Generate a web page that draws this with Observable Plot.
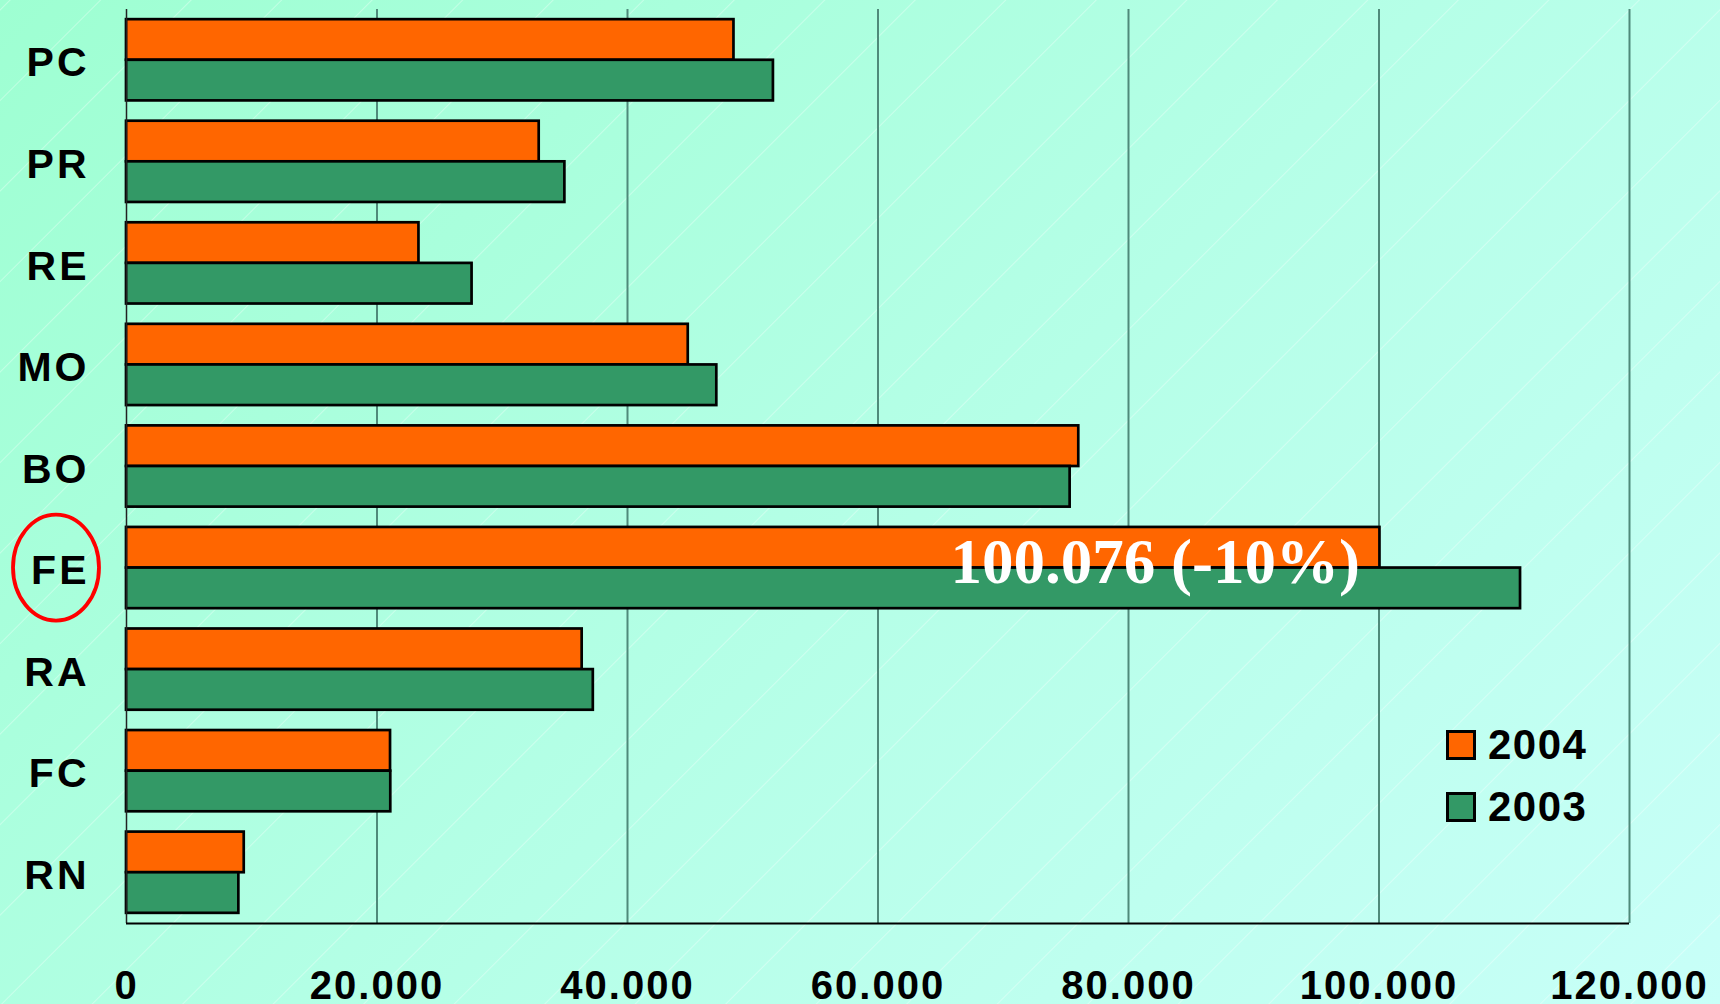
<!DOCTYPE html>
<html>
<head>
<meta charset="utf-8">
<script src="https://cdn.jsdelivr.net/npm/d3@7"></script>
<script src="https://cdn.jsdelivr.net/npm/@observablehq/plot@0.6"></script>
<style>
  html, body { margin: 0; padding: 0; }
  body {
    width: 1720px; height: 1004px; overflow: hidden; position: relative;
    background:
      repeating-linear-gradient(-45deg, rgba(255,255,255,0) 0px, rgba(255,255,255,0) 62px, rgba(255,255,255,0.35) 63px, rgba(255,255,255,0) 64px),
      linear-gradient(135deg, #9effd2 0%, #b4ffe6 50%, #c8fff8 100%);
    font-family: "Liberation Sans", Arial, sans-serif;
  }
  #chart { position: absolute; left: 0; top: 0; }
  #chart svg { background: transparent !important; overflow: visible; }
  g[aria-label="x-axis tick label"] text { letter-spacing: 2px; }
  g[aria-label="y-axis tick label"] text { letter-spacing: 3px; }
  .legend { position: absolute; left: 1446px; top: 714px; font-weight: bold; font-size: 42px; letter-spacing: 1.5px; color: #000; }
  .legend .row { display: flex; align-items: center; height: 62px; }
  .legend .sw { width: 24px; height: 24px; border: 3px solid #000; margin-right: 12px; }
</style>
</head>
<body>
<div id="chart"></div>
<div class="legend" id="legend"></div>
<script>
// ---- data ----
const categories = ["PC", "PR", "RE", "MO", "BO", "FE", "RA", "FC", "RN"];
const values2004 = [48500, 32950, 23350, 44850, 76030, 100076, 36380, 21080, 9400];
const values2003 = [51650, 35000, 27590, 47130, 75340, 111300, 37270, 21100, 8970];
const years = ["2004", "2003"];
const yearColors = ["#ff6600", "#339966"];
const xTicks = [0, 20000, 40000, 60000, 80000, 100000, 120000];
const highlight = "FE";

const fmt = d => d3.format(",")(d).replace(/,/g, ".");

const rows = [];
categories.forEach((c, i) => {
  rows.push({cat: c, i, year: "2004", value: values2004[i], y1: i - 0.4, y2: i});
  rows.push({cat: c, i, year: "2003", value: values2003[i], y1: i, y2: i + 0.4});
});

const hi = categories.indexOf(highlight);
const pct = Math.round((values2004[hi] - values2003[hi]) / values2003[hi] * 100);
const annot = [{i: hi, value: values2004[hi], label: `${fmt(values2004[hi])} (${pct}%)`}];

const yMin = -0.5, yMax = categories.length - 0.5;

const chart = Plot.plot({
  width: 1720,
  height: 1004,
  marginLeft: 126,
  marginRight: 91,
  marginTop: 9,
  marginBottom: 81,
  style: {background: "transparent", fontFamily: "'Liberation Sans', Arial, sans-serif", overflow: "visible"},
  x: {domain: [0, 120000], label: null},
  y: {domain: [yMin, yMax], reverse: true, label: null},
  color: {domain: years, range: yearColors},
  marks: [
    Plot.gridX({ticks: xTicks.slice(1), stroke: "#4f8a7a", strokeOpacity: 1, strokeWidth: 2}),
    Plot.rectX(rows, {x1: 0, x2: "value", y1: "y1", y2: "y2", fill: "year", stroke: "#000", strokeWidth: 2.7}),
    Plot.ruleX([0], {stroke: "#222", strokeWidth: 1.5}),
    Plot.ruleY([yMax], {stroke: "#000", strokeWidth: 2}),
    Plot.axisX({ticks: xTicks, tickFormat: fmt, tickSize: 0, tickPadding: 47, fontSize: 40, fontWeight: "bold", fill: "#000", label: null}),
    Plot.axisY({ticks: categories.map((c, i) => i), tickFormat: i => categories[i], tickSize: 0, tickPadding: 37, dy: 3, fontSize: 41, fontWeight: "bold", fill: "#000", label: null}),
    Plot.text(annot, {x: "value", y: "i", text: "label", textAnchor: "end", dx: -20, dy: -5,
      fill: "#fff", fontSize: 63, fontWeight: "bold", fontFamily: "'Liberation Serif', 'Times New Roman', serif"})
  ]
});

document.getElementById("chart").appendChild(chart);

// red ellipse around highlighted category label, placed via the y scale
const yS = chart.scale("y");
const cy = yS.apply(hi);
d3.select(chart).append("ellipse")
  .attr("cx", 56).attr("cy", cy)
  .attr("rx", 43).attr("ry", 53)
  .attr("fill", "none").attr("stroke", "#ff0000").attr("stroke-width", 3.8);

// legend
const lg = d3.select("#legend");
years.forEach((y, k) => {
  const row = lg.append("div").attr("class", "row");
  row.append("div").attr("class", "sw").style("background", yearColors[k]);
  row.append("span").text(y);
});
</script>
</body>
</html>
